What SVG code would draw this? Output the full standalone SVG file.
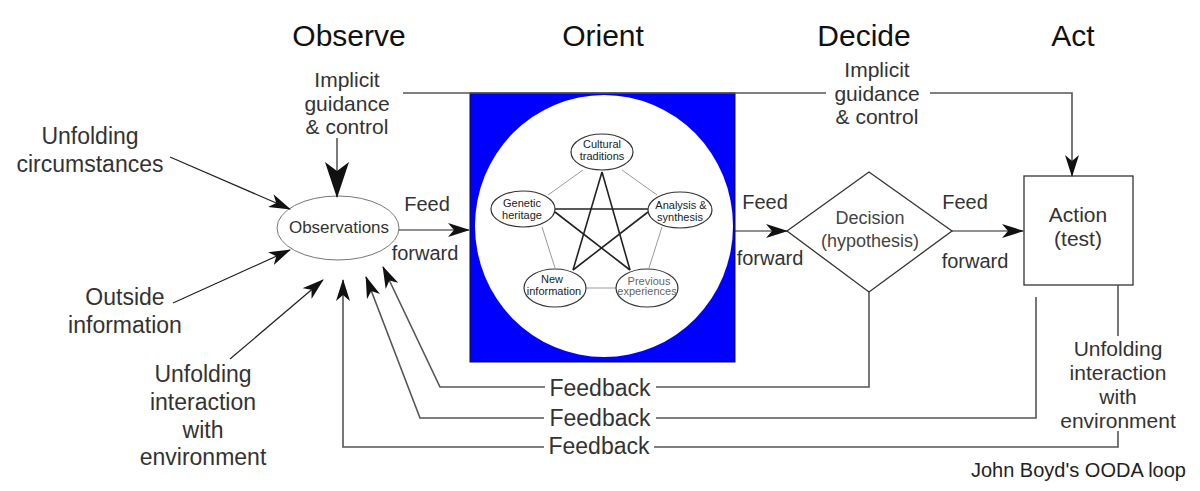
<svg xmlns="http://www.w3.org/2000/svg" width="1200" height="491" viewBox="0 0 1200 491">
<style>
text{font-family:"Liberation Sans",Arial,sans-serif;fill:#222;text-anchor:middle}
.t{font-size:30px;fill:#111}
.l{font-size:23px;fill:#333}
.m{font-size:21px;fill:#333}
.f{font-size:20px;fill:#333}
.s{font-size:11px;fill:#222}
.sg{font-size:11px;fill:#666}
.c{fill:none;stroke:#222;stroke-width:1.2}
.fb{fill:none;stroke:#555;stroke-width:1.6}
.pent{stroke:#999;stroke-width:1}
.star{stroke:#222;stroke-width:1.6}
.se{fill:#fff;stroke:#333;stroke-width:1.2}
</style>
<defs>
<marker id="a" markerUnits="userSpaceOnUse" markerWidth="22" markerHeight="14" viewBox="0 0 22 14" refX="21" refY="7" orient="auto"><path d="M0,0 L22,7 L0,14 L6,7 z" fill="#111"/></marker>
<marker id="ab" markerUnits="userSpaceOnUse" markerWidth="36" markerHeight="24" viewBox="0 0 36 24" refX="35" refY="12" orient="auto"><path d="M0,0 L36,12 L0,24 L9,12 z" fill="#111"/></marker>
</defs>
<g id="titles">
<text class="t" x="349" y="46">Observe</text>
<text class="t" x="603" y="46">Orient</text>
<text class="t" x="864" y="46">Decide</text>
<text class="t" x="1073" y="46">Act</text>
</g>
<g id="orient">
<rect x="470" y="93" width="265" height="269" fill="#0000ff" stroke="#111" stroke-width="1"/>
<ellipse cx="604" cy="226" rx="129" ry="131" fill="#fff"/>
<g id="pentagon">
<line class="pent" x1="583" y1="170" x2="548" y2="195"/>
<line class="pent" x1="622" y1="170" x2="657" y2="195"/>
<line class="pent" x1="542" y1="227" x2="555" y2="268"/>
<line class="pent" x1="662" y1="227" x2="649" y2="268"/>
<line class="pent" x1="586" y1="288" x2="617" y2="288"/>
<line class="star" x1="602" y1="172" x2="573" y2="270"/>
<line class="star" x1="602" y1="172" x2="630" y2="270"/>
<line class="star" x1="555" y1="209" x2="648" y2="209"/>
<line class="star" x1="555" y1="212" x2="630" y2="270"/>
<line class="star" x1="648" y1="212" x2="573" y2="270"/>
</g>
<g id="cultural"><ellipse class="se" cx="602" cy="152" rx="31" ry="18"/><text class="s" x="602" y="148">Cultural</text><text class="s" x="602" y="160">traditions</text></g>
<g id="genetic"><ellipse class="se" cx="523" cy="209" rx="32" ry="18"/><text class="s" x="522" y="207">Genetic</text><text class="s" x="522" y="219">heritage</text></g>
<g id="analysis"><ellipse class="se" cx="680" cy="210" rx="32" ry="18"/><text class="s" x="681" y="209">Analysis &amp;</text><text class="s" x="680" y="221">synthesis</text></g>
<g id="newinfo"><ellipse class="se" cx="555" cy="288" rx="31" ry="19"/><text class="s" x="552" y="283">New</text><text class="s" x="554" y="295">information</text></g>
<g id="previous"><ellipse class="se" cx="647" cy="288" rx="31" ry="19"/><text class="sg" x="649" y="285">Previous</text><text class="sg" x="647" y="295">experiences</text></g>
</g>
<g id="observations">
<ellipse cx="338" cy="228" rx="61" ry="32" fill="#fff" stroke="#777" stroke-width="1"/>
<text x="339" y="233" style="font-size:17px;fill:#333">Observations</text>
</g>
<g id="decision">
<polygon points="787,231 869,172 952,231 869,292" fill="#fff" stroke="#333" stroke-width="1.3"/>
<text x="870" y="224" style="font-size:18px;fill:#444">Decision</text>
<text x="870" y="247" style="font-size:18px;fill:#444">(hypothesis)</text>
</g>
<g id="action">
<rect x="1024" y="176" width="109" height="109" fill="#fff" stroke="#333" stroke-width="1.3"/>
<text class="m" x="1078" y="222">Action</text>
<text class="m" x="1078" y="246">(test)</text>
</g>
<g id="labels">
<text class="m" x="347" y="87">Implicit</text>
<text class="m" x="347" y="111">guidance</text>
<text class="m" x="347" y="134">&amp; control</text>
<text class="m" x="877" y="77">Implicit</text>
<text class="m" x="877" y="101">guidance</text>
<text class="m" x="877" y="124">&amp; control</text>
<text class="l" x="90" y="144">Unfolding</text>
<text class="l" x="90" y="172">circumstances</text>
<text class="l" x="125" y="305">Outside</text>
<text class="l" x="125" y="333">information</text>
<text class="l" x="203" y="382">Unfolding</text>
<text class="l" x="203" y="410">interaction</text>
<text class="l" x="203" y="438">with</text>
<text class="l" x="203" y="465">environment</text>
<text class="m" x="1118" y="356">Unfolding</text>
<text class="m" x="1118" y="380">interaction</text>
<text class="m" x="1118" y="404">with</text>
<text class="m" x="1118" y="428">environment</text>
<text class="f" x="427" y="211">Feed</text>
<text class="f" x="425" y="260">forward</text>
<text class="f" x="765" y="209">Feed</text>
<text class="f" x="770" y="265">forward</text>
<text class="f" x="965" y="209">Feed</text>
<text class="f" x="975" y="268">forward</text>
<text class="l" x="600" y="396">Feedback</text>
<text class="l" x="600" y="426">Feedback</text>
<text class="l" x="599" y="454">Feedback</text>
<text x="1186" y="477" style="font-size:20px;fill:#222;text-anchor:end">John Boyd's OODA loop</text>
</g>
<g id="connectors">
<line class="c" x1="337" y1="138" x2="337" y2="197" marker-end="url(#ab)"/>
<polyline class="fb" points="403,93 826,93"/>
<polyline class="fb" points="930,93 1072,93 1072,176" marker-end="url(#a)"/>
<line class="c" x1="170" y1="157" x2="290" y2="209" marker-end="url(#a)"/>
<line class="c" x1="173" y1="303" x2="290" y2="250" marker-end="url(#a)"/>
<line class="c" x1="230" y1="359" x2="323" y2="280" marker-end="url(#a)"/>
<line class="c" x1="399" y1="230" x2="469" y2="230" marker-end="url(#a)"/>
<line class="c" x1="735" y1="231" x2="787" y2="231" marker-end="url(#a)"/>
<line class="c" x1="952" y1="231" x2="1023" y2="231" marker-end="url(#a)"/>
<polyline class="fb" points="869,292 869,387 656,387"/>
<polyline class="fb" points="545,387 440,387 383,267" marker-end="url(#a)"/>
<polyline class="fb" points="1036,297 1036,418 656,418"/>
<polyline class="fb" points="544,418 420,418 366,277" marker-end="url(#a)"/>
<polyline class="fb" points="1118,431 1118,447 654,447"/>
<polyline class="fb" points="544,447 343,447 343,280" marker-end="url(#a)"/>
<line class="fb" x1="1118" y1="285" x2="1118" y2="336"/>
</g>
</svg>
